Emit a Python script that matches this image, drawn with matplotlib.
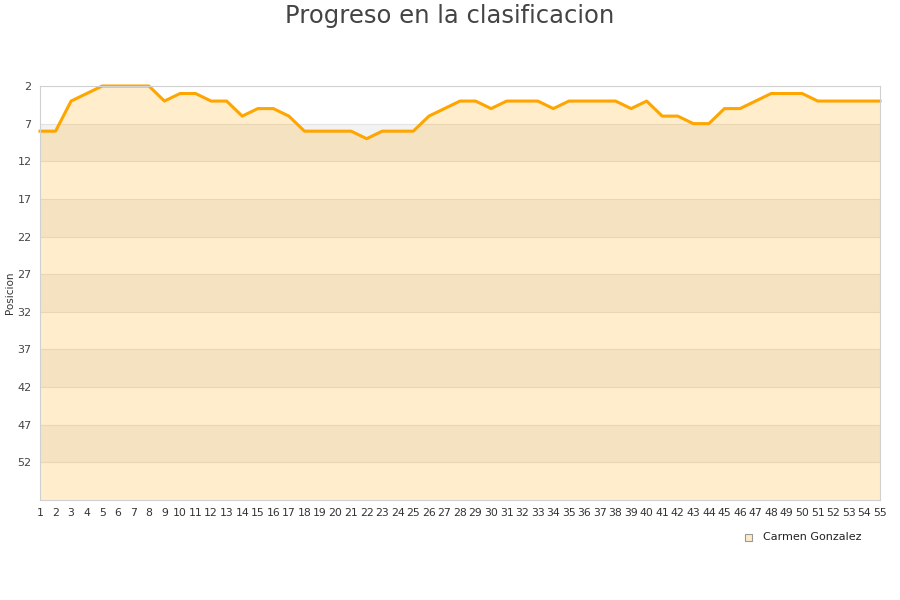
import matplotlib.pyplot as plt
import numpy as np

# datos
jornadas = list(range(1, 56))
posicion = [8, 8, 4, 3, 2, 2, 2, 2, 4, 3,
            3, 4, 4, 6, 5, 5, 6, 8, 8, 8,
            8, 9, 8, 8, 8, 6, 5, 4, 4, 5,
            4, 4, 4, 5, 4, 4, 4, 4, 5, 4,
            6, 6, 7, 7, 5, 5, 4, 3, 3, 3,
            4, 4, 4, 4, 4]
yticks = [2, 7, 12, 17, 22, 27, 32, 37, 42, 47, 52]
nombre = 'Carmen Gonzalez'

fig = plt.figure(figsize=(9, 6), dpi=100)
ax = fig.add_axes([40 / 900, 1 - 500 / 600, 840 / 900, 414 / 600])

ymin, ymax = 2, 57
# bandas alternas
for i, t in enumerate(yticks):
    if i % 2 == 1:
        ax.axhspan(t, t + 5, color='#f2f2f2', zorder=0, lw=0)
for t in yticks[1:]:
    ax.axhline(t, color='#e3e3e3', lw=0.8, zorder=0.5)

ax.fill_between(jornadas, posicion, ymax, color='#ffa500', alpha=0.2, lw=0, zorder=1)
ax.plot(jornadas, posicion, color='#ffa500', lw=2.2, zorder=2, clip_on=False)

ax.set_xlim(1, 55)
ax.set_ylim(ymax, ymin)
ax.set_xticks(jornadas)
ax.set_xticklabels([str(j) for j in jornadas], fontsize=7.8, color='#333333')
ax.set_yticks(yticks)
ax.set_yticklabels([str(t) for t in yticks], fontsize=8, color='#444444')
ax.tick_params(length=0, pad=6)
for s in ax.spines.values():
    s.set_color('#d0d0d0')
    s.set_linewidth(0.8)
    s.set_zorder(3)

ax.set_ylabel('Posicion', fontsize=7.5, color='#333333', labelpad=2)
fig.text(0.5, 1 - 16 / 600, 'Progreso en la clasificacion', ha='center', va='center',
         fontsize=17.5, color='#444444')

# leyenda
fig.patches.append(plt.Rectangle((745 / 900, 1 - 541 / 600), 7 / 900, 7 / 600,
                                 transform=fig.transFigure, facecolor='#feecc8',
                                 edgecolor='#999999', lw=0.8))
fig.text(763 / 900, 1 - 537 / 600, nombre, ha='left', va='center', fontsize=8, color='#222222')

fig.savefig('out.png', dpi=100)
